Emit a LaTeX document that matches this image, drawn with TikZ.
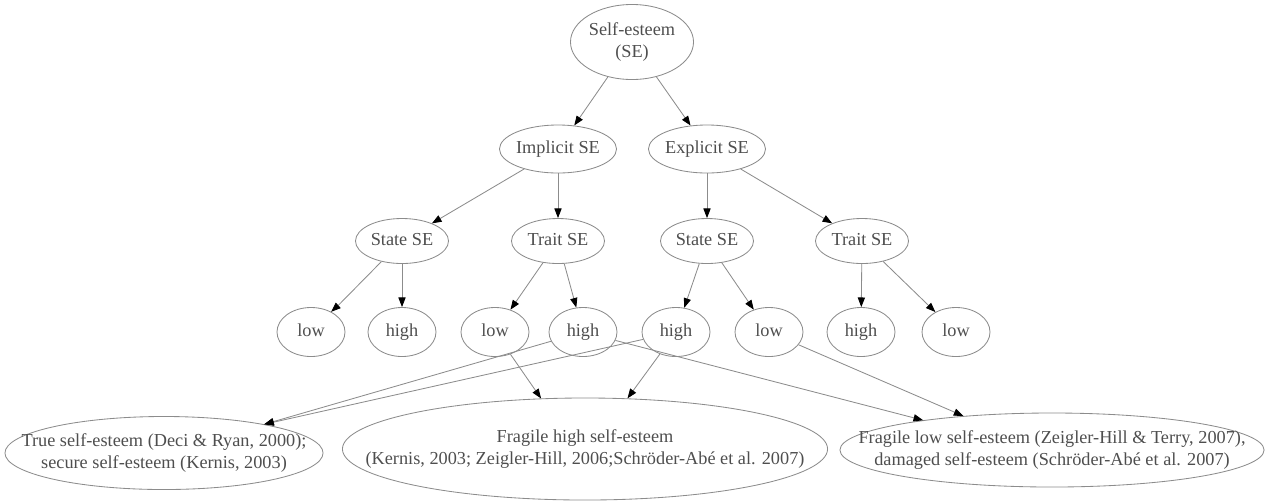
\documentclass[tikz,border=0pt]{standalone}
\usepackage{fontspec}
\setmainfont{Liberation Serif}
\usetikzlibrary{arrows.meta, shapes.geometric}
\definecolor{cink}{HTML}{4E4E4E}
\definecolor{cline}{HTML}{8C8C8C}
\newcommand{\ovtext}[1]{\makebox[0pt]{\begin{tabular}{@{}c@{}}#1\end{tabular}}}
\tikzset{
  every picture/.style={font=\fontsize{13}{16}\selectfont, line width=0.6pt},
  oval/.style 2 args={ellipse, draw=cline, text=cink, inner sep=0pt, minimum width=#1, minimum height=#2},
  leaf/.style={oval={1.7cm}{1.225cm}},
  mid/.style={oval={2.325cm}{1.125cm}},
  arrow/.style={-{Triangle[length=2.4mm, width=1.8mm, color=black]}, draw=cline},
}

\begin{document}
\begin{tikzpicture}[x=0.025cm, y=-0.025cm]
  \useasboundingbox (0,0) rectangle (1266,502);
  \node[oval={3.075cm}{1.875cm}] (se) at (632,42) {\ovtext{Self-esteem\\(SE)}};
  \node[oval={2.925cm}{1.2cm}] (imp) at (558,149) {\ovtext{Implicit SE}};
  \node[oval={2.925cm}{1.2cm}] (exp) at (707,149) {\ovtext{Explicit SE}};
  \foreach \n/\x/\t in {ist/402/State SE, itr/558/Trait SE, est/707/State SE, etr/862/Trait SE}
    \node[mid] (\n) at (\x,241) {\ovtext{\t}};
  \foreach \n/\x/\t in {isl/311/low, ish/402/high, itl/495/low, ith/583/high, esh/676/high, esl/769/low, eth/861/high, etl/956/low}
    \node[leaf] (\n) at (\x,332) {\ovtext{\t}};
  % outcomes
  \node[oval={7.95cm}{1.825cm}] (truese) at (164,453)
    {\ovtext{True self-esteem (Deci \& Ryan, 2000);\\secure self-esteem (Kernis, 2003)}};
  \node[oval={12.125cm}{2.55cm}] (fraghigh) at (585,449)
    {\ovtext{Fragile high self-esteem\\(Kernis, 2003; Zeigler-Hill, 2006;Schröder-Abé et al. 2007)}};
  \node[oval={10.6cm}{1.85cm}] (fraglow) at (1052,450)
    {\ovtext{Fragile low self-esteem (Zeigler-Hill \& Terry, 2007),\\damaged self-esteem (Schröder-Abé et al. 2007)}};
  % tree
  \foreach \a/\b in {se/imp, se/exp, imp/ist, imp/itr, exp/est, exp/etr, ist/isl, ist/ish, itr/itl, itr/ith, est/esh, est/esl, etr/eth, etr/etl}
    \draw[arrow] (\a) -- (\b);
  % combinations
  \draw[arrow] (ith) -- (truese.16);
  \draw[arrow] (esh) -- (truese.16);
  \draw[arrow] (itl) -- (fraghigh.131);
  \draw[arrow] (esh) -- (fraghigh.50);
  \draw[arrow] (ith) -- (fraglow.167);
  \draw[arrow] (esl) -- (fraglow.159);
\end{tikzpicture}
\end{document}
